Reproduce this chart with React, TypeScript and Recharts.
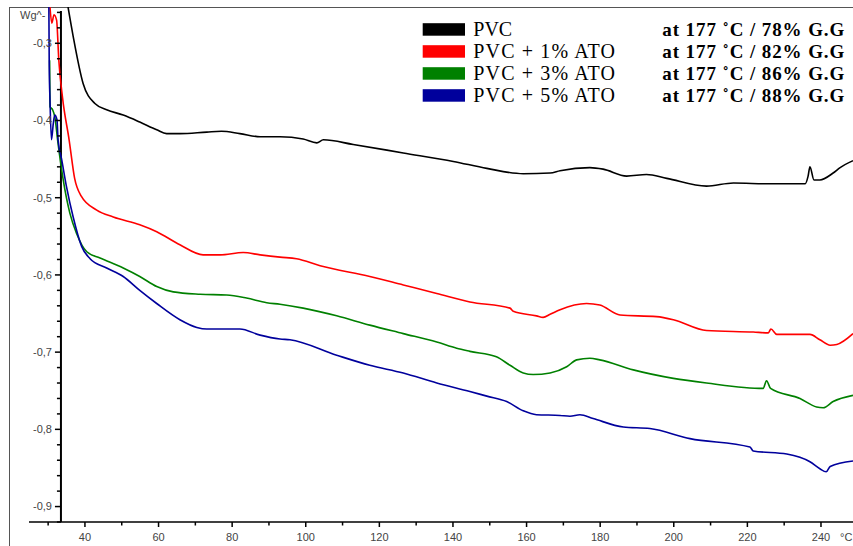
import React from "react";
import { LineChart, Line, XAxis, YAxis, ReferenceLine } from "recharts";

// ---- data (temperature °C, heat flow W/g) ----
const pvcT = [35.4, 36.8, 39.5, 42.7, 45.9, 50.4, 54.9, 59.5, 62.2, 65.8, 73.1, 77.1, 82.1, 87.6, 93.0, 99.3, 103.0, 104.8, 112.9, 126.5, 140.1, 149.2, 159.1, 166.4, 169.1, 177.2, 180.8, 187.2, 192.6, 198.1, 208.9, 216.2, 226.1, 235.7, 236.5, 237.0, 238.1, 239.7, 243.3, 245.2, 248.7];
const pvcW = [-0.253, -0.291, -0.352, -0.378, -0.386, -0.393, -0.402, -0.412, -0.417, -0.417, -0.415, -0.414, -0.417, -0.421, -0.421, -0.424, -0.429, -0.425, -0.431, -0.442, -0.453, -0.462, -0.469, -0.468, -0.465, -0.461, -0.463, -0.472, -0.470, -0.475, -0.485, -0.481, -0.482, -0.482, -0.472, -0.460, -0.477, -0.477, -0.468, -0.461, -0.452];

const ato1T = [30.5, 31.0, 31.6, 32.3, 32.9, 33.9, 35.7, 37.2, 39.0, 43.2, 47.7, 54.9, 59.5, 65.8, 72.1, 76.7, 83.0, 87.6, 93.0, 97.5, 103.9, 117.4, 126.5, 135.6, 144.6, 155.5, 156.4, 162.7, 164.5, 166.4, 169.1, 176.3, 179.9, 185.4, 195.3, 199.9, 208.9, 221.6, 225.7, 226.4, 228.0, 237.0, 239.7, 242.5, 244.3, 248.7];
const ato1W = [-0.253, -0.274, -0.263, -0.270, -0.322, -0.370, -0.425, -0.475, -0.498, -0.516, -0.525, -0.535, -0.544, -0.561, -0.574, -0.574, -0.571, -0.574, -0.577, -0.579, -0.588, -0.602, -0.613, -0.624, -0.635, -0.643, -0.647, -0.653, -0.655, -0.651, -0.645, -0.637, -0.639, -0.652, -0.654, -0.658, -0.672, -0.674, -0.675, -0.670, -0.677, -0.677, -0.684, -0.691, -0.690, -0.676];

const ato3T = [30.4, 30.5, 31.2, 31.8, 32.7, 34.1, 35.9, 37.7, 40.5, 44.1, 50.4, 54.9, 59.5, 64.0, 71.3, 78.5, 83.9, 89.4, 93.0, 99.3, 108.4, 117.4, 126.5, 135.6, 141.0, 144.6, 151.8, 155.5, 159.1, 161.8, 166.4, 170.9, 173.6, 177.2, 179.9, 189.0, 199.9, 208.9, 224.3, 225.2, 226.3, 234.3, 238.8, 240.6, 243.3, 248.7];
const ato3W = [-0.322, -0.382, -0.386, -0.395, -0.430, -0.477, -0.520, -0.546, -0.570, -0.578, -0.591, -0.602, -0.615, -0.622, -0.625, -0.626, -0.630, -0.636, -0.638, -0.643, -0.653, -0.665, -0.676, -0.687, -0.695, -0.699, -0.706, -0.717, -0.727, -0.729, -0.727, -0.719, -0.710, -0.708, -0.710, -0.723, -0.734, -0.740, -0.747, -0.737, -0.747, -0.760, -0.771, -0.772, -0.764, -0.756];

const ato5T = [30.2, 30.3, 30.5, 30.9, 31.4, 31.8, 32.4, 32.7, 33.7, 35.0, 36.8, 39.1, 41.4, 45.9, 50.4, 54.9, 59.5, 65.8, 70.4, 73.1, 82.1, 87.6, 93.0, 95.7, 108.4, 117.4, 126.5, 135.6, 144.6, 149.2, 154.6, 159.1, 162.7, 169.1, 171.8, 174.5, 178.1, 186.3, 193.5, 204.4, 220.7, 221.6, 230.7, 237.0, 239.7, 241.4, 242.5, 248.7];
const ato5W = [-0.253, -0.330, -0.373, -0.425, -0.404, -0.393, -0.399, -0.425, -0.451, -0.486, -0.525, -0.563, -0.579, -0.591, -0.602, -0.620, -0.637, -0.658, -0.668, -0.670, -0.670, -0.678, -0.683, -0.684, -0.704, -0.717, -0.727, -0.740, -0.751, -0.757, -0.764, -0.776, -0.781, -0.782, -0.783, -0.781, -0.786, -0.797, -0.799, -0.812, -0.823, -0.828, -0.832, -0.842, -0.851, -0.855, -0.848, -0.841];

const seriesNames = ["PVC", "PVC + 1% ATO", "PVC + 3% ATO", "PVC + 5% ATO"];
const seriesNotes = ["at 177 ˚C /  78% G.G", "at 177 ˚C /  82% G.G", "at 177 ˚C /  86% G.G", "at 177 ˚C /  88% G.G"];
const seriesColors = ["#000000", "#ff0000", "#008000", "#00009c"];

const xTicks = [30, 40, 50, 60, 70, 80, 90, 100, 110, 120, 130, 140, 150, 160, 170, 180, 190, 200, 210, 220, 230, 240];
const yTicks = [-0.26, -0.28, -0.3, -0.32, -0.34, -0.36, -0.38, -0.4, -0.42, -0.44, -0.46, -0.48, -0.5, -0.52, -0.54, -0.56, -0.58, -0.6, -0.62, -0.64, -0.66, -0.68, -0.7, -0.72, -0.74, -0.76, -0.78, -0.8, -0.82, -0.84, -0.86, -0.88, -0.9, -0.92];

const X_DOMAIN: [number, number] = [24.8, 248.7];
const Y_DOMAIN: [number, number] = [-0.92, -0.253];
const Y_AXIS_AT = 33.48;
const Y_AXIS_TOP = -0.2582;

const W = 853;
const H = 546;
const Y_AXIS_W = 29;
const M = { top: 7, right: 0, left: 0, bottom: 0 };
const X_AXIS_H = 24;
const plotLeft = M.left + Y_AXIS_W;
const plotW = W - plotLeft - M.right;
const yAxisPx = plotLeft + ((Y_AXIS_AT - X_DOMAIN[0]) / (X_DOMAIN[1] - X_DOMAIN[0])) * plotW;

const build = (ts: number[], ws: number[]) => ts.map((t, i) => ({ t, w: ws[i] }));
const datasets = [build(pvcT, pvcW), build(ato1T, ato1W), build(ato3T, ato3W), build(ato5T, ato5W)];

const axisFont = "'Liberation Sans', Arial, sans-serif";

const XTick = (props: any) => {
  const { x, y, payload } = props;
  const v = payload.value;
  const major = v % 20 === 0;
  return (
    <g>
      <line x1={x} x2={x} y1={y} y2={y + (major ? 5 : 3.5)} stroke="#000" strokeWidth={1.5} />
      {major && (
        <text x={x} y={y + 19} textAnchor="middle" fontSize={11} fontFamily={axisFont} fill="#444">
          {v}
        </text>
      )}
    </g>
  );
};

const YTick = (props: any) => {
  const { y, payload } = props;
  const v = payload.value;
  const major = Math.abs(v * 10 - Math.round(v * 10)) < 1e-6;
  return (
    <g>
      <line x1={yAxisPx - (major ? 6 : 4)} x2={yAxisPx} y1={y} y2={y} stroke="#000" strokeWidth={1.5} />
      {major && (
        <text x={yAxisPx - 9} y={y} dy="0.35em" textAnchor="end" fontSize={11} fontFamily={axisFont} fill="#444">
          {v.toFixed(1).replace(".", ",")}
        </text>
      )}
    </g>
  );
};

export default function App() {
  const legendBase = 35.7;
  const legendStep = 22;
  return (
    <div style={{ position: "absolute", left: 0, top: 0, width: W, height: H, background: "#fff" }}>
      <svg width={W} height={H} style={{ position: "absolute", left: 0, top: 0 }}>
        <line x1={9.5} x2={9.5} y1={7} y2={H} stroke="#555" strokeWidth={1} />
        <line x1={9} x2={W} y1={7.5} y2={7.5} stroke="#555" strokeWidth={1} />
        <text x={20} y={19} fontSize={11} fontFamily={axisFont} fill="#444">Wg^-</text>
        <text x={840} y={541} fontSize={11} fontFamily={axisFont} fill="#444">°C</text>
        {seriesNames.map((n, i) => {
          const base = legendBase + i * legendStep;
          return (
            <g key={n}>
              <rect x={422.7} y={base - 12.5} width={42.3} height={12.5} fill={seriesColors[i]} />
              <text
                x={473.3}
                y={base}
                fontSize={20}
                fontFamily="'Liberation Serif', 'Times New Roman', serif"
                fill="#000"
                {...(i > 0 ? { textLength: 141.7, lengthAdjust: "spacing" } : {})}
              >
                {n}
              </text>
              <text
                x={662.3}
                y={base}
                fontSize={19}
                fontWeight="bold"
                fontFamily="'Liberation Serif', 'Times New Roman', serif"
                fill="#000"
                textLength={182}
                lengthAdjust="spacing"
              >
                {seriesNotes[i]}
              </text>
            </g>
          );
        })}
      </svg>
      <div style={{ position: "absolute", left: 0, top: 0 }}>
        <LineChart width={W} height={H} margin={M}>
          <XAxis
            dataKey="t"
            type="number"
            domain={X_DOMAIN}
            allowDataOverflow
            ticks={xTicks}
            interval={0}
            height={X_AXIS_H}
            tickSize={0}
            tickMargin={0}
            tickLine={false}
            axisLine={{ stroke: "#000", strokeWidth: 1.5 }}
            tick={<XTick />}
          />
          <YAxis
            type="number"
            domain={Y_DOMAIN}
            allowDataOverflow
            ticks={yTicks}
            interval={0}
            width={Y_AXIS_W}
            tickLine={false}
            axisLine={false}
            tick={<YTick />}
          />
          <ReferenceLine
            segment={[
              { x: Y_AXIS_AT, y: Y_AXIS_TOP },
              { x: Y_AXIS_AT, y: Y_DOMAIN[0] },
            ]}
            stroke="#000"
            strokeWidth={2}
            ifOverflow="visible"
          />
          {datasets.map((d, i) => (
            <Line
              key={seriesNames[i]}
              data={d}
              dataKey="w"
              name={seriesNames[i]}
              type="monotone"
              stroke={seriesColors[i]}
              strokeWidth={1.6}
              dot={false}
              activeDot={false}
              isAnimationActive={false}
            />
          ))}
        </LineChart>
      </div>
    </div>
  );
}
